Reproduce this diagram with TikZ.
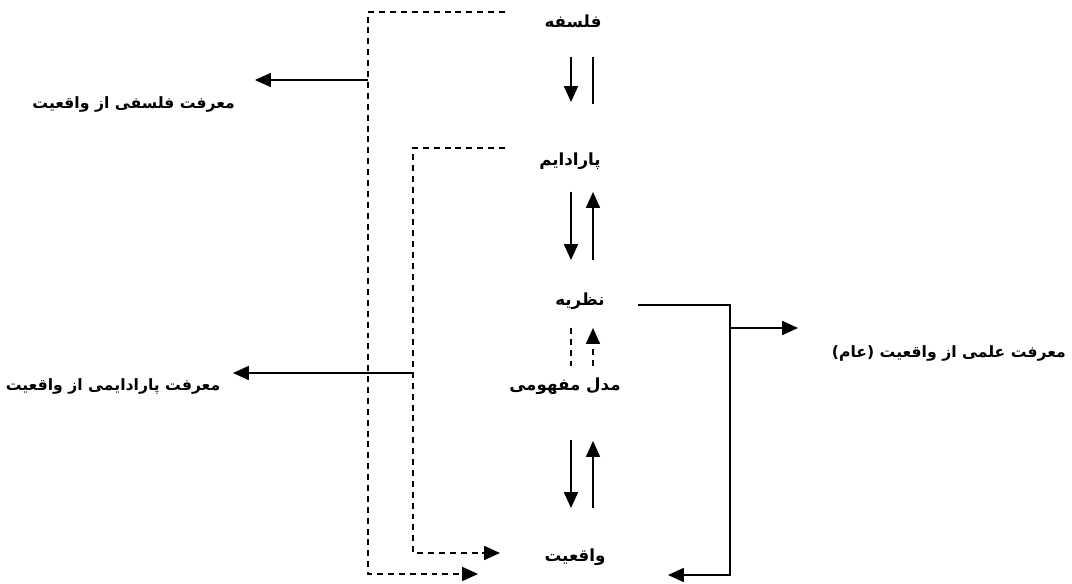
\documentclass[tikz,border=0pt]{standalone}
\usepackage{fontspec}
\newfontfamily\arabicfont[Script=Arabic]{DejaVu Sans}
\TeXXeTstate=1
\usetikzlibrary{arrows.meta}
\newcommand{\fa}[1]{\arabicfont\bfseries\beginR #1\endR}

\begin{document}
\begin{tikzpicture}[x=0.02cm,y=-0.02cm,
    lbl/.style={inner sep=1pt,font=\fontsize{9.5}{11}\selectfont},
    side/.style={inner sep=1pt,font=\fontsize{8.9}{11}\selectfont},
    line/.style={line width=0.75pt},
    dline/.style={line width=0.75pt,dash pattern=on 3.4pt off 2.8pt},
    tip/.style={-{Triangle[length=9pt,width=8pt]}}]
  \useasboundingbox (0,0) rectangle (1072,584);

  % levels in the middle column
  \node[lbl] (falsafe) at (573,21) {\fa{فلسفه}};
  \node[lbl] (paradigm) at (570,161) {\fa{پارادایم}};
  \node[lbl] (nazarie) at (580,301) {\fa{نظریه}};
  \node[lbl] (model) at (565,386) {\fa{مدل مفهومی}};
  \node[lbl] (vagheiat) at (575,557) {\fa{واقعیت}};

  % kinds of knowledge
  \node[side,anchor=east] (kfalsafi) at (237,104) {\fa{معرفت فلسفی از واقعیت}};
  \node[side] (kparadigm) at (113,386) {\fa{معرفت پارادایمی از واقعیت}};
  \node[side,anchor=east] (kelmi) at (1068,353) {\fa{معرفت علمی از واقعیت (عام)}};

  % falsafe -> paradigm
  \coordinate (fp1) at (571,57);  \coordinate (fp2) at (571,102);
  \coordinate (fp3) at (593,57);  \coordinate (fp4) at (593,104);
  \draw[line,tip] (fp1) -- (fp2);
  \draw[line] (fp3) -- (fp4);

  % paradigm <-> nazarie
  \coordinate (pn1) at (571,192); \coordinate (pn2) at (571,260);
  \coordinate (pn3) at (593,260); \coordinate (pn4) at (593,192);
  \draw[line,tip] (pn1) -- (pn2);
  \draw[line,tip] (pn3) -- (pn4);

  % nazarie <-> model (dashed)
  \coordinate (nm1) at (571,328); \coordinate (nm2) at (571,366);
  \coordinate (nm3) at (593,366); \coordinate (nm4) at (593,328);
  \draw[dline] (nm1) -- (nm2);
  \draw[dline,tip] (nm3) -- (nm4);

  % model <-> vagheiat
  \coordinate (mv1) at (571,440); \coordinate (mv2) at (571,508);
  \coordinate (mv3) at (593,508); \coordinate (mv4) at (593,441);
  \draw[line,tip] (mv1) -- (mv2);
  \draw[line,tip] (mv3) -- (mv4);

  % outer dashed frame: falsafe
  \coordinate (o1) at (505,12);  \coordinate (o2) at (368,12);
  \coordinate (o3) at (368,574); \coordinate (o4) at (478,574);
  \coordinate (ob) at (368,80);  \coordinate (oe) at (255,80);
  \draw[dline,tip] (o1) -- (o2) -- (o3) -- (o4);
  \draw[line,tip] (ob) -- (oe);

  % inner dashed frame: paradigm
  \coordinate (i1) at (505,148); \coordinate (i2) at (413,148);
  \coordinate (i3) at (413,553); \coordinate (i4) at (500,553);
  \coordinate (ib) at (413,373); \coordinate (ie) at (233,373);
  \draw[dline,tip] (i1) -- (i2) -- (i3) -- (i4);
  \draw[line,tip] (ib) -- (ie);

  % nazarie -> vagheiat and scientific knowledge
  \coordinate (r1) at (638,305); \coordinate (r2) at (730,305);
  \coordinate (r3) at (730,575); \coordinate (r4) at (668,575);
  \coordinate (rb) at (730,328); \coordinate (re) at (798,328);
  \draw[line,tip] (r1) -- (r2) -- (r3) -- (r4);
  \draw[line,tip] (rb) -- (re);
\end{tikzpicture}
\end{document}
